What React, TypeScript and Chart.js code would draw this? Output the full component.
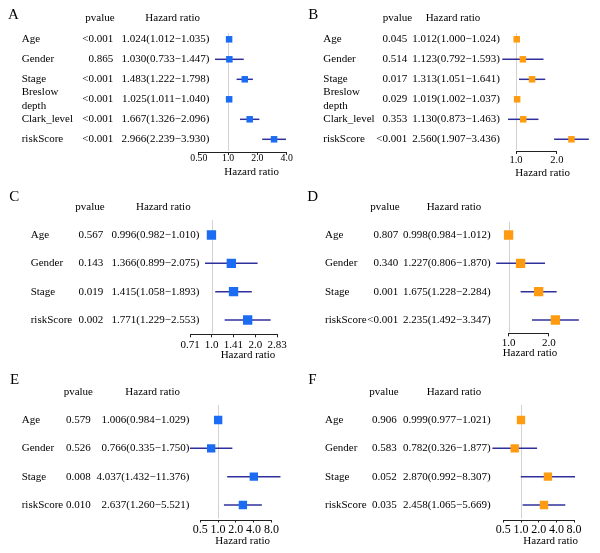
import React, { useEffect, useRef } from "react";
import { Chart, registerables } from "chart.js";
Chart.register(...registerables);

// ---------- data ----------
const namesAB = ["Age", "Gender", "Stage", "Breslow\ndepth", "Clark_level", "riskScore"];
const namesCF = ["Age", "Gender", "Stage", "riskScore"];

const pA = ["<0.001", "0.865", "<0.001", "<0.001", "<0.001", "<0.001"];
const hrA = [1.024, 1.03, 1.483, 1.025, 1.667, 2.966];
const loA = [1.012, 0.733, 1.222, 1.011, 1.326, 2.239];
const hiA = [1.035, 1.447, 1.798, 1.04, 2.096, 3.93];

const pB = ["0.045", "0.514", "0.017", "0.029", "0.353", "<0.001"];
const hrB = [1.012, 1.123, 1.313, 1.019, 1.13, 2.56];
const loB = [1.0, 0.792, 1.051, 1.002, 0.873, 1.907];
const hiB = [1.024, 1.593, 1.641, 1.037, 1.463, 3.436];

const pC = ["0.567", "0.143", "0.019", "0.002"];
const hrC = [0.996, 1.366, 1.415, 1.771];
const loC = [0.982, 0.899, 1.058, 1.229];
const hiC = [1.01, 2.075, 1.893, 2.553];

const pD = ["0.807", "0.340", "0.001", "<0.001"];
const hrD = [0.998, 1.227, 1.675, 2.235];
const loD = [0.984, 0.806, 1.228, 1.492];
const hiD = [1.012, 1.87, 2.284, 3.347];

const pE = ["0.579", "0.526", "0.008", "0.010"];
const hrE = [1.006, 0.766, 4.037, 2.637];
const loE = [0.984, 0.335, 1.432, 1.26];
const hiE = [1.029, 1.75, 11.376, 5.521];

const pF = ["0.906", "0.583", "0.052", "0.035"];
const hrF = [0.999, 0.782, 2.87, 2.458];
const loF = [0.977, 0.326, 0.992, 1.065];
const hiF = [1.021, 1.877, 8.307, 5.669];

const ticksA = [0.5, 1, 2, 4];
const tickLabelsA = ["0.50", "1.0", "2.0", "4.0"];
const ticksB = [1, 2];
const tickLabelsB = ["1.0", "2.0"];
const ticksC = [0.71, 1, 1.41, 2, 2.83];
const tickLabelsC = ["0.71", "1.0", "1.41", "2.0", "2.83"];
const ticksD = [1, 2];
const tickLabelsD = ["1.0", "2.0"];
const ticksEF = [0.5, 1, 2, 4, 8];
const tickLabelsEF = ["0.5", "1.0", "2.0", "4.0", "8.0"];

// ---------- styles ----------
const BLUE = "#1b6cf2";
const ORANGE = "#ff9b10";
const CI_COLOR = "#30309c";
const FONT = "'Liberation Serif', 'DejaVu Serif', serif";

type Layout = {
  letterX: number; letterY: number; headY: number; pHeadX: number; hrHeadX: number;
  nameX: number; pX: number; hrX: number; y0: number; dy: number; x1: number; k: number;
  plotL: number; plotR: number; refTop: number; axisY: number; tickPad: number; tickFont: number;
  titleX: number; titleY: number; r: number;
};

type Panel = {
  letter: string; left: number; top: number; w: number; h: number;
  names: string[]; p: string[]; hr: number[]; lo: number[]; hi: number[];
  ticks: number[]; tickLabels: string[]; color: string; L: Layout;
};

const panels: Panel[] = [
  {
    letter: "A", left: 0, top: 0, w: 300, h: 180, names: namesAB, p: pA, hr: hrA, lo: loA, hi: hiA,
    ticks: ticksA, tickLabels: tickLabelsA, color: BLUE,
    L: { letterX: 8, letterY: 15, headY: 18.3, pHeadX: 100, hrHeadX: 172.7, nameX: 21.7, pX: 113.3, hrX: 209.3,
      y0: 39.3, dy: 20, x1: 228.1, k: 29.3, plotL: 190, plotR: 292, refTop: 33, axisY: 152, tickPad: -1.2, tickFont: 9.8,
      titleX: 251.7, titleY: 172.3, r: 4.6 },
  },
  {
    letter: "B", left: 300, top: 0, w: 300, h: 180, names: namesAB, p: pB, hr: hrB, lo: loB, hi: hiB,
    ticks: ticksB, tickLabels: tickLabelsB, color: ORANGE,
    L: { letterX: 8.3, letterY: 15, headY: 18.3, pHeadX: 97.5, hrHeadX: 153, nameX: 23.3, pX: 107.3, hrX: 200,
      y0: 39.3, dy: 20, x1: 214.5, k: 41.7, plotL: 195, plotR: 292, refTop: 33, axisY: 151, tickPad: 0.8, tickFont: 10.5,
      titleX: 242.7, titleY: 172.8, r: 4.6 },
  },
  {
    letter: "C", left: 0, top: 180, w: 300, h: 190, names: namesCF, p: pC, hr: hrC, lo: loC, hi: hiC,
    ticks: ticksC, tickLabels: tickLabelsC, color: BLUE,
    L: { letterX: 9.3, letterY: 17, headY: 26.7, pHeadX: 90, hrHeadX: 163.3, nameX: 30.7, pX: 103.3, hrX: 199.3,
      y0: 55, dy: 28.33, x1: 211.7, k: 43.6, plotL: 185, plotR: 282, refTop: 40, axisY: 154.3, tickPad: 2.5, tickFont: 11,
      titleX: 248, titleY: 175.3, r: 6.6 },
  },
  {
    letter: "D", left: 300, top: 180, w: 300, h: 190, names: namesCF, p: pD, hr: hrD, lo: loD, hi: hiD,
    ticks: ticksD, tickLabels: tickLabelsD, color: ORANGE,
    L: { letterX: 7.3, letterY: 16.7, headY: 26.7, pHeadX: 85, hrHeadX: 154, nameX: 25, pX: 98.3, hrX: 190.7,
      y0: 55, dy: 28.33, x1: 205.5, k: 42, plotL: 188, plotR: 282, refTop: 41.7, axisY: 153.3, tickPad: 1.7, tickFont: 11,
      titleX: 230, titleY: 173.6, r: 6.6 },
  },
  {
    letter: "E", left: 0, top: 370, w: 300, h: 183, names: namesCF, p: pE, hr: hrE, lo: loE, hi: hiE,
    ticks: ticksEF, tickLabels: tickLabelsEF, color: BLUE,
    L: { letterX: 10, letterY: 10, headY: 21.7, pHeadX: 78.3, hrHeadX: 152.7, nameX: 21.7, pX: 90.7, hrX: 189.3,
      y0: 50, dy: 28.33, x1: 218, k: 17.8, plotL: 185, plotR: 285, refTop: 35, axisY: 149.5, tickPad: 1.7, tickFont: 12,
      titleX: 242.7, titleY: 171, r: 5.9 },
  },
  {
    letter: "F", left: 300, top: 370, w: 300, h: 183, names: namesCF, p: pF, hr: hrF, lo: loF, hi: hiF,
    ticks: ticksEF, tickLabels: tickLabelsEF, color: ORANGE,
    L: { letterX: 8.3, letterY: 10, headY: 21.7, pHeadX: 84, hrHeadX: 154, nameX: 25, pX: 96.7, hrX: 190.7,
      y0: 50, dy: 28.33, x1: 221, k: 17.7, plotL: 188, plotR: 285, refTop: 35, axisY: 149.5, tickPad: 1.7, tickFont: 12,
      titleX: 250.7, titleY: 171, r: 5.9 },
  },
];

function hrText(h: number, l: number, u: number) {
  return `${h.toFixed(3)}(${l.toFixed(3)}\u2212${u.toFixed(3)})`;
}

function ForestPanel({ cfg }: { cfg: Panel }) {
  const ref = useRef<HTMLCanvasElement>(null);
  useEffect(() => {
    const L = cfg.L;
    const xMin = Math.pow(2, (L.plotL - L.x1) / L.k);
    const xMax = Math.pow(2, (L.plotR - L.x1) / L.k);
    const yMin = (L.refTop - L.y0) / L.dy;
    const yMax = (L.axisY - L.y0) / L.dy;

    const pointSet: any = {
      data: cfg.hr.map((v, i) => ({ x: v, y: i })),
      pointStyle: "rect",
      pointRadius: L.r,
      pointHoverRadius: L.r,
      backgroundColor: cfg.color,
      borderWidth: 0,
      showLine: false,
      order: 0,
    };
    const ciSets: any[] = cfg.hr.map((_, i) => ({
      data: [{ x: cfg.lo[i], y: i }, { x: cfg.hi[i], y: i }],
      showLine: true,
      borderColor: CI_COLOR,
      borderWidth: 1.5,
      pointRadius: 0,
      pointHoverRadius: 0,
      fill: false,
      order: 1,
    }));

    const plugin = {
      id: "forestText",
      beforeDatasetsDraw(chart: any) {
        const { ctx, chartArea, scales } = chart;
        const px = Math.round(scales.x.getPixelForValue(1)) + 0.5;
        ctx.save();
        ctx.strokeStyle = "#d2d2d2";
        ctx.lineWidth = 1;
        ctx.beginPath();
        ctx.moveTo(px, chartArea.top);
        ctx.lineTo(px, chartArea.bottom - 1);
        ctx.stroke();
        ctx.restore();
      },
      afterDraw(chart: any) {
        const { ctx, chartArea, scales } = chart;
        const xs = scales.x;
        const ys = scales.y;
        ctx.save();
        // axis line between first and last tick
        const ay = Math.round(chartArea.bottom) + 0.5;
        ctx.strokeStyle = "#222";
        ctx.lineWidth = 1;
        ctx.beginPath();
        ctx.moveTo(xs.getPixelForValue(cfg.ticks[0]), ay);
        ctx.lineTo(xs.getPixelForValue(cfg.ticks[cfg.ticks.length - 1]), ay);
        ctx.stroke();

        ctx.fillStyle = "#000";
        ctx.textBaseline = "middle";
        // panel letter
        ctx.font = `15px ${FONT}`;
        ctx.textAlign = "left";
        ctx.fillText(cfg.letter, L.letterX, L.letterY);
        // headers
        ctx.font = `11px ${FONT}`;
        ctx.textAlign = "center";
        ctx.fillText("pvalue", L.pHeadX, L.headY);
        ctx.fillText("Hazard ratio", L.hrHeadX, L.headY);
        // rows
        cfg.names.forEach((name, i) => {
          const y = ys.getPixelForValue(i);
          const lines = name.split("\n");
          ctx.textAlign = "left";
          if (lines.length === 2) {
            ctx.fillText(lines[0], L.nameX, y - 7);
            ctx.fillText(lines[1], L.nameX, y + 7);
          } else {
            ctx.fillText(name, L.nameX, y);
          }
          ctx.textAlign = "right";
          ctx.fillText(cfg.p[i], L.pX, y);
          ctx.fillText(hrText(cfg.hr[i], cfg.lo[i], cfg.hi[i]), L.hrX, y);
        });
        // x title
        ctx.textAlign = "center";
        ctx.fillText("Hazard ratio", L.titleX, L.titleY);
        ctx.restore();
      },
    };

    const chart = new Chart(ref.current as HTMLCanvasElement, {
      type: "scatter",
      data: { datasets: [pointSet, ...ciSets] },
      options: {
        responsive: false,
        animation: false,
        events: [],
        layout: { padding: { left: L.plotL, right: cfg.w - L.plotR, top: L.refTop, bottom: 0 } },
        plugins: { legend: { display: false }, tooltip: { enabled: false }, title: { display: false } },
        scales: {
          x: {
            type: "logarithmic",
            position: "bottom",
            min: xMin,
            max: xMax,
            afterBuildTicks: (axis: any) => {
              axis.ticks = cfg.ticks.map((v) => ({ value: v }));
            },
            afterFit: (axis: any) => {
              axis.height = cfg.h - L.axisY;
            },
            grid: { display: true, drawOnChartArea: false, drawTicks: true, tickLength: 3, color: "#222", lineWidth: 1 },
            border: { display: false },
            ticks: {
              autoSkip: false,
              maxRotation: 0,
              minRotation: 0,
              padding: L.tickPad,
              color: "#000",
              font: { family: FONT, size: L.tickFont, lineHeight: 1 },
              callback: (_v: any, i: number) => cfg.tickLabels[i],
            },
          },
          y: { type: "linear", display: false, reverse: true, min: yMin, max: yMax },
        },
      } as any,
      plugins: [plugin],
    });
    return () => chart.destroy();
  }, [cfg]);

  return (
    <div style={{ position: "absolute", left: cfg.left, top: cfg.top, width: cfg.w, height: cfg.h }}>
      <canvas ref={ref} width={cfg.w} height={cfg.h} style={{ display: "block", width: cfg.w, height: cfg.h }} />
    </div>
  );
}

export default function App() {
  return (
    <div style={{ position: "fixed", left: 0, top: 0, width: 600, height: 553, background: "#fff", overflow: "hidden" }}>
      {panels.map((p) => (
        <ForestPanel key={p.letter} cfg={p} />
      ))}
    </div>
  );
}
